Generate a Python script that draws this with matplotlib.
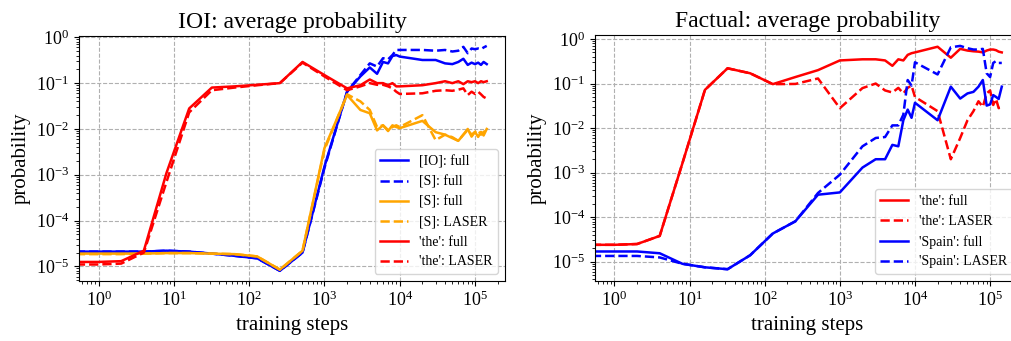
import matplotlib
matplotlib.use('agg')
import matplotlib.pyplot as plt
import matplotlib.ticker as mticker
import numpy as np

plt.rcParams['font.family'] = ['Liberation Serif', 'DejaVu Serif']
plt.rcParams['mathtext.fontset'] = 'stix'

# training steps (first point stands for step 0)
steps = [0.5, 1, 2, 4, 8, 16, 32, 64, 128, 256, 512, 1000,
         2000, 3000, 4000, 5000, 6000, 7000, 8000, 9000, 10000,
         20000, 30000, 40000, 50000, 60000, 70000, 80000, 90000,
         100000, 110000, 120000, 130000, 143000]

# IOI task
ioi_io_full = [2.1e-5, 2.1e-5, 2.1e-5, 2.1e-5, 2.2e-5, 2.1e-5, 1.9e-5, 1.7e-5, 1.5e-5, 8e-6, 2.0e-5, 1.5e-3,
               0.065, 0.14, 0.22, 0.16, 0.29, 0.27, 0.39, 0.41, 0.38,
               0.32, 0.32, 0.27, 0.26, 0.29, 0.34, 0.25, 0.28, 0.26, 0.28, 0.25, 0.29, 0.26]
ioi_s_full_b = [2.1e-5, 2.1e-5, 2.1e-5, 2.1e-5, 2.2e-5, 2.1e-5, 1.9e-5, 1.7e-5, 1.5e-5, 8e-6, 2.0e-5, 1.4e-3,
                0.065, 0.15, 0.27, 0.23, 0.35, 0.33, 0.41, 0.53, 0.53,
                0.53, 0.51, 0.53, 0.49, 0.51, 0.62, 0.45, 0.57, 0.55, 0.57, 0.55, 0.6, 0.65]
ioi_s_full = [1.9e-5, 1.9e-5, 1.9e-5, 1.9e-5, 1.95e-5, 1.95e-5, 1.9e-5, 1.85e-5, 1.65e-5, 8.5e-6, 2.2e-5, 3.8e-3,
              0.055, 0.026, 0.022, 0.0093, 0.012, 0.009, 0.012, 0.011, 0.0104,
              0.015, 0.0085, 0.0075, 0.0063, 0.0055, 0.0075, 0.01, 0.0068, 0.0086, 0.0067, 0.0086, 0.0072, 0.01]
ioi_s_laser = [1.85e-5, 1.85e-5, 1.85e-5, 1.9e-5, 1.95e-5, 1.95e-5, 1.9e-5, 1.85e-5, 1.65e-5, 8.5e-6, 2.2e-5, 3.5e-3,
               0.057, 0.04, 0.026, 0.011, 0.012, 0.0095, 0.011, 0.012, 0.011,
               0.02, 0.0057, 0.0075, 0.0066, 0.0055, 0.0075, 0.0095, 0.0075, 0.0086, 0.0095, 0.0075, 0.0086, 0.0095]
ioi_the_full = [1.25e-5, 1.25e-5, 1.3e-5, 2.2e-5, 1.1e-3, 2.8e-2, 8e-2, 0.085, 0.092, 0.1, 0.29, 0.15,
                0.077, 0.09, 0.12, 0.1, 0.1, 0.09, 0.1, 0.085, 0.085,
                0.09, 0.1, 0.11, 0.1, 0.11, 0.095, 0.11, 0.105, 0.11, 0.1, 0.11, 0.105, 0.11]
ioi_the_laser = [1.1e-5, 1.1e-5, 1.15e-5, 2.0e-5, 7e-4, 2.3e-2, 7e-2, 0.08, 0.09, 0.1, 0.28, 0.14,
                 0.07, 0.085, 0.1, 0.092, 0.092, 0.085, 0.077, 0.065, 0.058,
                 0.06, 0.068, 0.07, 0.068, 0.072, 0.077, 0.055, 0.065, 0.058, 0.065, 0.057, 0.05, 0.046]

# Factual task
fac_the_full = [2.4e-5, 2.4e-5, 2.5e-5, 3.8e-5, 1.6e-3, 0.072, 0.22, 0.17, 0.097, 0.14, 0.2, 0.33,
                0.35, 0.35, 0.33, 0.25, 0.35, 0.33, 0.44, 0.48, 0.5,
                0.67, 0.38, 0.6, 0.55, 0.53, 0.52, 0.5, 0.55, 0.58, 0.58, 0.56, 0.52, 0.5]
fac_the_laser = [2.4e-5, 2.4e-5, 2.5e-5, 3.8e-5, 1.6e-3, 0.072, 0.22, 0.17, 0.097, 0.098, 0.13, 0.028,
                 0.079, 0.1, 0.07, 0.063, 0.08, 0.06, 0.08, 0.09, 0.05,
                 0.024, 0.002, 0.006, 0.015, 0.024, 0.04, 0.03, 0.06, 0.07, 0.033, 0.045, 0.028, 0.03]
fac_spain_full = [1.7e-5, 1.7e-5, 1.7e-5, 1.55e-5, 9e-6, 7.5e-6, 6.8e-6, 1.4e-5, 4.3e-5, 8.1e-5, 3.2e-4, 3.6e-4,
                  1.3e-3, 2e-3, 2e-3, 4.2e-3, 3.9e-3, 0.015, 0.026, 0.017, 0.037,
                  0.015, 0.085, 0.046, 0.06, 0.065, 0.085, 0.12, 0.032, 0.034, 0.055, 0.05, 0.045, 0.085]
fac_spain_laser = [1.35e-5, 1.35e-5, 1.35e-5, 1.25e-5, 9e-6, 7.5e-6, 6.8e-6, 1.4e-5, 4.3e-5, 8.1e-5, 3.5e-4, 9e-4,
                   3.9e-3, 6e-3, 6.3e-3, 0.0115, 0.0115, 0.02, 0.12, 0.09, 0.3,
                   0.16, 0.65, 0.7, 0.62, 0.58, 0.58, 0.6, 0.17, 0.14, 0.29, 0.32, 0.29, 0.29]


def style_axes(ax, title, ylim):
    ax.set_xscale('log')
    ax.set_yscale('log')
    ax.set_xlim(0.55, 2.5e5)
    ax.set_ylim(*ylim)
    for axis in (ax.xaxis, ax.yaxis):
        axis.set_major_locator(mticker.LogLocator(base=10, numticks=20))
        axis.set_minor_locator(mticker.LogLocator(base=10, subs=np.arange(2, 10), numticks=100))
        axis.set_minor_formatter(mticker.NullFormatter())
    ax.grid(True, which='major', linestyle='--', color='#b0b0b0', linewidth=0.8)
    ax.set_title(title, fontsize=17)
    ax.set_xlabel('training steps', fontsize=15)
    ax.set_ylabel('probability', fontsize=15)
    ax.tick_params(labelsize=13)
    ax.legend(loc='lower right', fontsize=10)


fig = plt.figure(figsize=(10.11, 3.41), dpi=100)
lw = 1.8

ax1 = fig.add_axes([0.0781, 0.176, 0.4214, 0.7185])
ax1.plot(steps, ioi_io_full, '-', color='blue', lw=lw, label='[IO]: full')
ax1.plot(steps, ioi_s_full_b, '--', color='blue', lw=lw, label='[S]: full')
ax1.plot(steps, ioi_s_full, '-', color='orange', lw=lw, label='[S]: full')
ax1.plot(steps, ioi_s_laser, '--', color='orange', lw=lw, label='[S]: LASER')
ax1.plot(steps, ioi_the_full, '-', color='red', lw=lw, label="'the': full")
ax1.plot(steps, ioi_the_laser, '--', color='red', lw=lw, label="'the': LASER")
style_axes(ax1, 'IOI: average probability', (4.8e-6, 1.07))

ax2 = fig.add_axes([0.5885, 0.176, 0.4204, 0.7214])
ax2.plot(steps, fac_the_full, '-', color='red', lw=lw, label="'the': full")
ax2.plot(steps, fac_the_laser, '--', color='red', lw=lw, label="'the': LASER")
ax2.plot(steps, fac_spain_full, '-', color='blue', lw=lw, label="'Spain': full")
ax2.plot(steps, fac_spain_laser, '--', color='blue', lw=lw, label="'Spain': LASER")
style_axes(ax2, 'Factual: average probability', (3.7e-6, 1.23))

fig.savefig('out.png', dpi=100)
plt.close(fig)
